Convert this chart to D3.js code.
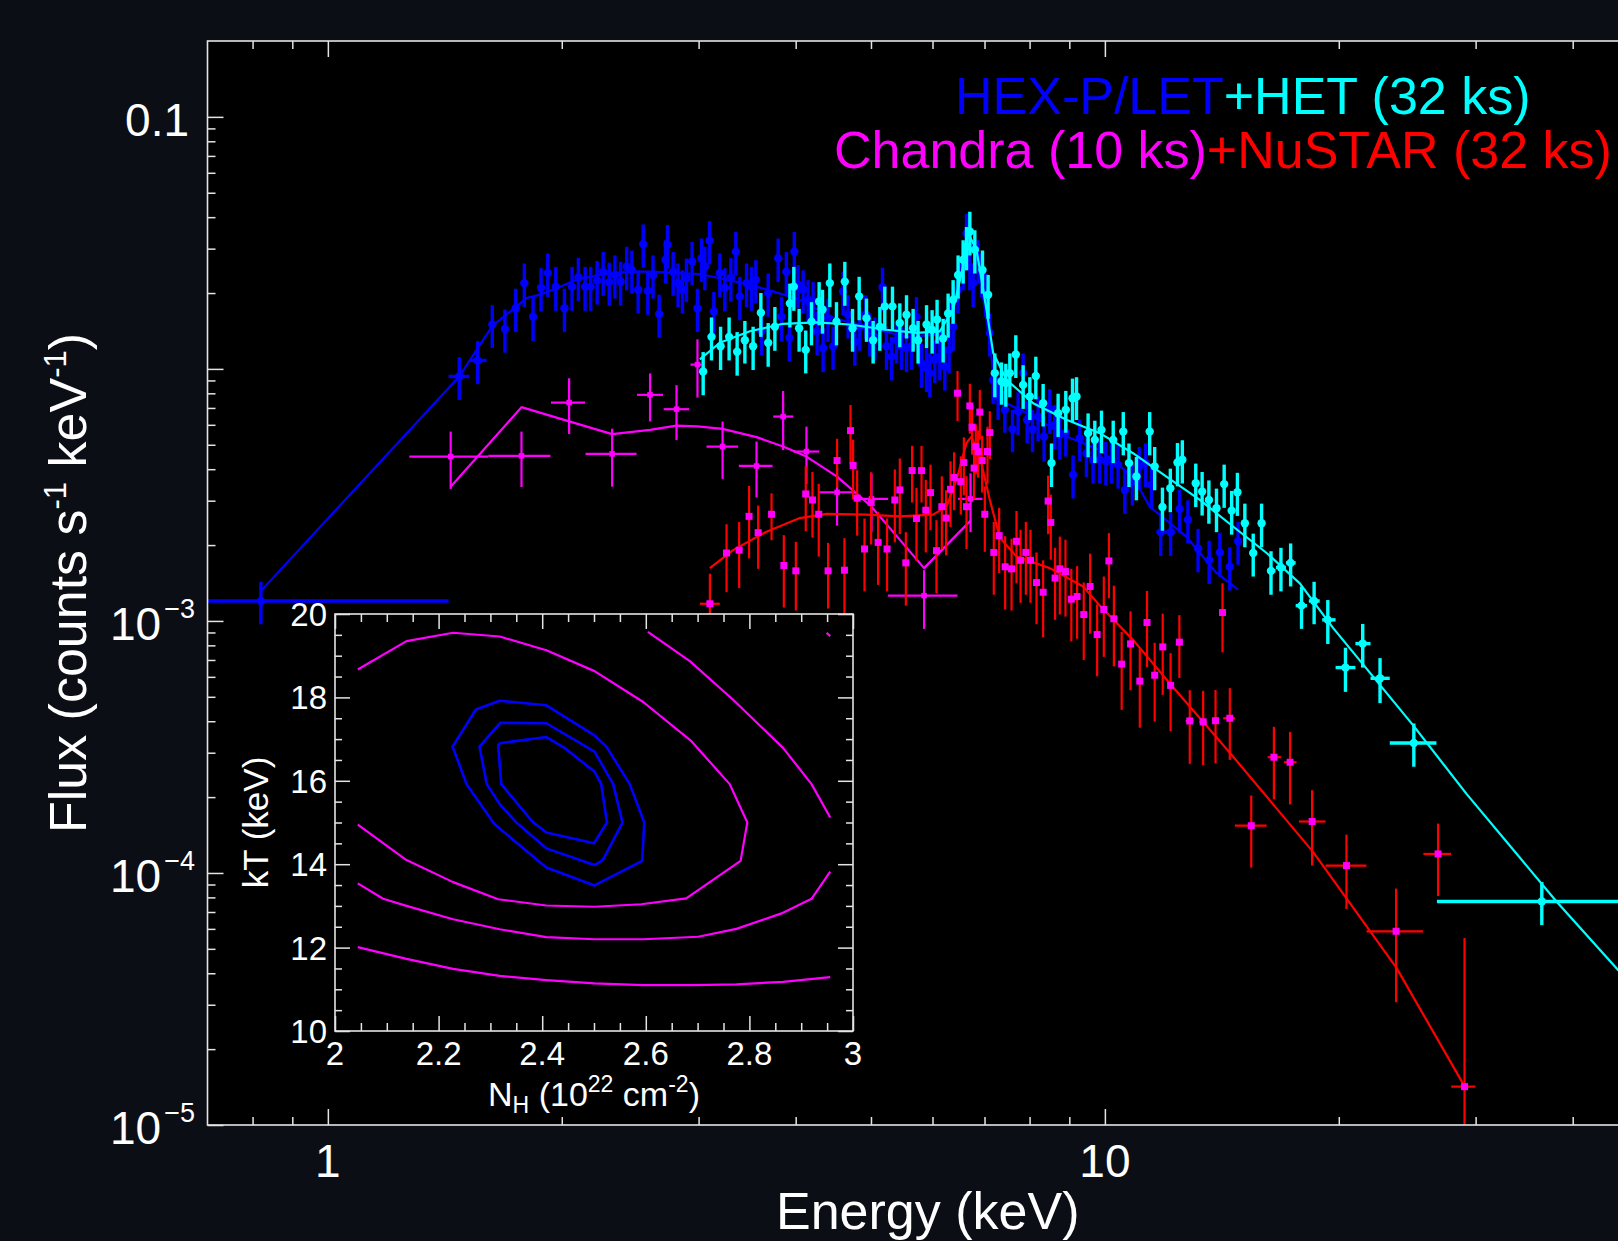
<!DOCTYPE html>
<html>
<head>
<meta charset="utf-8">
<script src="https://cdn.jsdelivr.net/npm/d3@7"></script>
<style>
  html, body { margin: 0; padding: 0; background: #0b0e15; }
  svg { display: block; }
  text { font-family: "Liberation Sans", Arial, Helvetica, sans-serif; fill: #fff; }
</style>
</head>
<body>
<svg id="chart" width="1618" height="1241"></svg>
<script>
"use strict";

// ---- spectrum data: [energy keV, flux, flux error, (bin low, bin high)] ----
var letData = [
  [0.82, 1.20e-3, 2.3e-4, 0.5, 1.43], [1.476, 9.33e-3, 1.8e-3, 1.43, 1.52], [1.559, 1.08e-2, 2.1e-3, 1.524, 1.601],
  [1.628, 1.50e-2, 2.9e-3], [1.690, 1.44e-2, 2.8e-3], [1.745, 1.74e-2, 3.4e-3], [1.790, 2.19e-2, 4.3e-3],
  [1.837, 1.61e-2, 3.2e-3], [1.881, 2.10e-2, 4.1e-3], [1.919, 2.40e-2, 4.7e-3], [1.965, 2.12e-2, 4.2e-3],
  [2.016, 1.74e-2, 3.4e-3], [2.062, 2.12e-2, 4.2e-3], [2.101, 2.31e-2, 4.5e-3], [2.143, 2.12e-2, 4.2e-3],
  [2.179, 2.12e-2, 4.2e-3], [2.221, 2.24e-2, 4.4e-3], [2.261, 2.43e-2, 4.8e-3], [2.302, 2.21e-2, 4.3e-3],
  [2.341, 2.36e-2, 4.6e-3], [2.381, 2.22e-2, 4.4e-3], [2.424, 2.55e-2, 5.0e-3], [2.462, 2.47e-2, 4.8e-3],
  [2.508, 2.06e-2, 4.0e-3], [2.546, 3.13e-2, 6.1e-3], [2.581, 2.04e-2, 4.0e-3], [2.621, 2.36e-2, 4.6e-3],
  [2.669, 1.65e-2, 3.2e-3], [2.720, 2.71e-2, 5.3e-3], [2.736, 3.11e-2, 6.1e-3], [2.782, 2.43e-2, 4.8e-3],
  [2.823, 2.19e-2, 4.3e-3], [2.860, 2.06e-2, 4.0e-3], [2.894, 2.29e-2, 4.5e-3], [2.943, 2.67e-2, 5.2e-3],
  [2.990, 1.74e-2, 3.4e-3], [3.026, 2.75e-2, 5.4e-3], [3.056, 2.55e-2, 5.0e-3], [3.099, 3.23e-2, 6.3e-3],
  [3.139, 1.69e-2, 3.3e-3], [3.195, 2.40e-2, 4.7e-3], [3.243, 2.10e-2, 4.1e-3], [3.301, 2.30e-2, 4.5e-3],
  [3.350, 2.92e-2, 5.7e-3], [3.390, 1.94e-2, 3.8e-3], [3.458, 2.19e-2, 4.3e-3], [3.510, 2.12e-2, 4.2e-3],
  [3.555, 2.26e-2, 4.4e-3], [3.615, 1.41e-2, 2.8e-3], [3.687, 2.00e-2, 3.9e-3], [3.798, 2.75e-2, 5.4e-3],
  [3.836, 1.61e-2, 3.2e-3], [3.891, 2.43e-2, 4.8e-3], [3.926, 1.33e-2, 2.6e-3], [3.984, 2.92e-2, 5.7e-3],
  [4.029, 2.16e-2, 4.2e-3], [4.089, 2.06e-2, 4.0e-3], [4.150, 1.88e-2, 3.7e-3], [4.212, 1.85e-2, 3.6e-3],
  [4.262, 1.41e-2, 2.8e-3], [4.339, 1.21e-2, 2.4e-3], [4.403, 1.59e-2, 3.1e-3], [4.469, 1.23e-2, 2.4e-3],
  [4.603, 2.03e-2, 4.0e-3], [4.672, 1.64e-2, 3.2e-3], [4.766, 1.28e-2, 2.5e-3], [4.837, 1.47e-2, 2.9e-3],
  [4.924, 1.64e-2, 3.2e-3], [4.983, 1.39e-2, 2.7e-3], [5.057, 1.34e-2, 2.6e-3], [5.174, 2.11e-2, 4.1e-3],
  [5.235, 1.23e-2, 2.4e-3], [5.314, 1.12e-2, 2.2e-3], [5.393, 1.30e-2, 2.5e-3], [5.473, 1.23e-2, 2.4e-3],
  [5.555, 1.21e-2, 2.4e-3], [5.638, 1.23e-2, 2.4e-3], [5.722, 1.61e-2, 3.2e-3], [5.808, 1.05e-2, 2.1e-3],
  [5.895, 1.01e-2, 2.0e-3], [5.953, 9.62e-3, 1.9e-3], [6.041, 1.09e-2, 2.1e-3], [6.132, 1.12e-2, 2.2e-3],
  [6.223, 1.02e-2, 2.0e-3], [6.303, 1.19e-2, 2.3e-3], [6.378, 1.47e-2, 2.9e-3], [6.473, 2.06e-2, 4.0e-3],
  [6.570, 2.55e-2, 5.0e-3], [6.636, 3.45e-2, 6.8e-3], [6.702, 2.55e-2, 5.0e-3], [6.768, 2.19e-2, 4.3e-3],
  [6.869, 2.71e-2, 5.3e-3], [6.938, 2.40e-2, 4.7e-3], [7.027, 2.00e-2, 3.9e-3], [7.111, 1.39e-2, 2.7e-3],
  [7.181, 9.05e-3, 1.8e-3], [7.288, 7.77e-3, 1.5e-3], [7.434, 6.88e-3, 1.3e-3], [7.605, 5.77e-3, 1.1e-3],
  [7.733, 6.77e-3, 1.3e-3], [7.849, 9.62e-3, 1.9e-3], [7.942, 6.28e-3, 1.2e-3], [8.070, 5.77e-3, 1.1e-3],
  [8.205, 6.47e-3, 1.3e-3], [8.352, 5.39e-3, 1.1e-3], [8.494, 6.92e-3, 1.4e-3], [8.621, 6.00e-3, 1.2e-3],
  [8.750, 5.47e-3, 1.1e-3], [8.906, 5.59e-3, 1.1e-3], [9.101, 3.80e-3, 7.4e-4], [9.284, 5.31e-3, 1.0e-3],
  [9.469, 4.63e-3, 9.1e-4], [9.657, 4.36e-3, 8.5e-4], [9.851, 4.36e-3, 8.5e-4], [10.03, 4.29e-3, 8.4e-4],
  [10.20, 4.36e-3, 8.5e-4], [10.40, 4.16e-3, 8.1e-4], [10.61, 3.31e-3, 6.5e-4], [10.85, 3.57e-3, 7.0e-4],
  [11.07, 4.10e-3, 8.0e-4], [11.28, 4.23e-3, 8.3e-4], [11.48, 3.47e-3, 6.8e-4],
  [11.80, 2.25e-3, 4.4e-4, 11.65, 11.94], [12.15, 2.25e-3, 4.4e-4, 11.94, 12.30],
  [12.48, 2.78e-3, 5.4e-4], [12.79, 2.52e-3, 4.9e-4], [13.18, 1.94e-3, 3.8e-4], [13.62, 1.74e-3, 3.4e-4],
  [14.06, 1.87e-3, 3.7e-4], [14.48, 1.64e-3, 3.2e-4], [14.84, 2.07e-3, 4.0e-4]
];

var hetData = [
  [3.041, 9.76e-3, 1.9e-3], [3.117, 1.34e-2, 2.6e-3], [3.202, 1.23e-2, 2.4e-3], [3.284, 1.34e-2, 2.6e-3],
  [3.363, 1.17e-2, 2.3e-3], [3.441, 1.30e-2, 2.5e-3], [3.526, 1.23e-2, 2.4e-3], [3.608, 1.67e-2, 3.3e-3],
  [3.687, 1.27e-2, 2.5e-3], [3.761, 1.47e-2, 2.9e-3], [3.932, 1.82e-2, 3.6e-3], [3.978, 2.12e-2, 4.2e-3],
  [4.041, 1.45e-2, 2.8e-3], [4.121, 1.19e-2, 2.3e-3], [4.192, 1.54e-2, 3.0e-3], [4.288, 1.85e-2, 3.6e-3],
  [4.331, 1.72e-2, 3.4e-3], [4.426, 2.19e-2, 4.3e-3], [4.514, 1.54e-2, 3.0e-3], [4.627, 2.22e-2, 4.4e-3],
  [4.734, 1.45e-2, 2.8e-3], [4.828, 1.94e-2, 3.8e-3], [4.934, 1.59e-2, 3.1e-3], [5.032, 1.30e-2, 2.5e-3],
  [5.133, 1.47e-2, 2.9e-3], [5.209, 1.77e-2, 3.5e-3], [5.329, 1.77e-2, 3.5e-3], [5.446, 1.52e-2, 3.0e-3],
  [5.555, 1.64e-2, 3.2e-3], [5.665, 1.45e-2, 2.8e-3], [5.749, 1.30e-2, 2.5e-3], [5.895, 1.50e-2, 2.9e-3],
  [5.993, 1.43e-2, 2.8e-3], [6.082, 1.57e-2, 3.1e-3], [6.192, 1.32e-2, 2.6e-3], [6.284, 1.66e-2, 3.3e-3],
  [6.378, 1.88e-2, 3.7e-3], [6.473, 2.36e-2, 4.6e-3], [6.570, 2.71e-2, 5.3e-3], [6.636, 3.06e-2, 6.0e-3],
  [6.702, 3.51e-2, 6.9e-3], [6.802, 2.97e-2, 5.8e-3], [6.958, 2.47e-2, 4.8e-3], [7.075, 1.97e-2, 3.9e-3],
  [7.217, 9.62e-3, 1.9e-3], [7.361, 8.91e-3, 1.7e-3], [7.456, 8.78e-3, 1.7e-3], [7.545, 9.62e-3, 1.9e-3],
  [7.680, 1.14e-2, 2.2e-3], [7.849, 8.64e-3, 1.7e-3], [8.006, 7.77e-3, 1.5e-3], [8.149, 9.38e-3, 1.8e-3],
  [8.328, 7.31e-3, 1.4e-3], [8.537, 4.23e-3, 8.3e-4], [8.706, 6.67e-3, 1.3e-3], [8.906, 6.88e-3, 1.3e-3],
  [9.085, 7.65e-3, 1.5e-3], [9.194, 7.77e-3, 1.5e-3], [9.515, 5.56e-3, 1.1e-3], [9.706, 5.23e-3, 1.0e-3],
  [9.90, 5.73e-3, 1.1e-3], [10.25, 5.23e-3, 1.0e-3], [10.56, 5.64e-3, 1.1e-3], [10.74, 4.23e-3, 8.3e-4],
  [10.98, 3.74e-3, 7.3e-4], [11.42, 5.64e-3, 1.1e-3], [11.59, 4.10e-3, 8.0e-4], [11.86, 2.83e-3, 5.5e-4],
  [12.14, 3.36e-3, 6.6e-4], [12.40, 4.25e-3, 8.3e-4], [12.58, 4.36e-3, 8.5e-4], [13.09, 3.52e-3, 6.9e-4],
  [13.34, 3.26e-3, 6.4e-4], [13.61, 3.02e-3, 5.9e-4], [13.92, 2.80e-3, 5.5e-4], [14.24, 3.49e-3, 6.8e-4],
  [14.56, 2.74e-3, 5.4e-4], [14.81, 3.24e-3, 6.3e-4], [15.14, 2.44e-3, 4.8e-4], [15.52, 1.86e-3, 3.6e-4],
  [15.91, 2.44e-3, 4.8e-4],
  [16.36, 1.58e-3, 3.1e-4, 16.17, 16.58], [16.85, 1.63e-3, 3.2e-4, 16.6, 17.1],
  [17.34, 1.70e-3, 3.3e-4, 17.1, 17.6], [17.91, 1.15e-3, 2.2e-4, 17.6, 18.2],
  [18.59, 1.20e-3, 2.3e-4, 18.3, 18.9], [19.36, 1.01e-3, 2.0e-4, 19.04, 19.81],
  [20.40, 6.53e-4, 1.3e-4, 19.81, 21.01], [21.47, 8.13e-4, 1.6e-4, 21.01, 21.97],
  [22.60, 5.92e-4, 1.2e-4, 21.97, 23.26], [24.98, 3.28e-4, 6.4e-5, 23.26, 26.71],
  [36.50, 7.71e-5, 1.5e-5, 26.75, 50]
];

var nustarData = [
  [3.102, 1.17e-3, 3.7e-4, 3.011, 3.195], [3.259, 1.86e-3, 5.6e-4], [3.383, 1.91e-3, 5.6e-4],
  [3.484, 2.60e-3, 8.3e-4], [3.579, 2.24e-3, 6.3e-4], [3.724, 2.65e-3, 5.6e-4], [3.862, 1.66e-3, 5.3e-4],
  [4.002, 1.58e-3, 4.8e-4], [4.121, 3.19e-3, 9.2e-4], [4.204, 3.02e-3, 8.8e-4], [4.283, 2.65e-3, 8.5e-4],
  [4.403, 1.58e-3, 4.6e-4], [4.522, 4.33e-3, 9.5e-4], [4.622, 1.59e-3, 5.4e-4], [4.706, 5.69e-3, 1.5e-3],
  [4.742, 4.14e-3, 1.1e-3], [4.799, 3.07e-3, 8.9e-4], [4.905, 1.93e-3, 6.2e-4], [5.002, 2.95e-3, 9.4e-4],
  [5.107, 2.05e-3, 6.6e-4], [5.244, 1.93e-3, 6.2e-4], [5.366, 3.02e-3, 9.7e-4], [5.446, 3.31e-3, 1.1e-3],
  [5.544, 1.70e-3, 5.5e-4], [5.648, 3.95e-3, 1.0e-3], [5.722, 2.55e-3, 8.2e-4], [5.808, 3.95e-3, 1.0e-3],
  [5.882, 2.75e-3, 8.8e-4], [5.965, 3.23e-3, 9.4e-4], [6.071, 1.90e-3, 6.1e-4], [6.168, 2.84e-3, 9.1e-4],
  [6.247, 2.56e-3, 7.4e-4], [6.329, 3.33e-3, 9.7e-4], [6.397, 3.71e-3, 9.6e-4], [6.462, 8.01e-3, 1.8e-3],
  [6.525, 3.57e-3, 9.3e-4], [6.584, 4.25e-3, 1.1e-3], [6.636, 2.84e-3, 9.1e-4], [6.702, 7.13e-3, 1.6e-3],
  [6.747, 5.87e-3, 1.3e-3], [6.787, 4.04e-3, 1.0e-3], [6.822, 4.92e-3, 1.1e-3], [6.869, 4.70e-3, 1.0e-3],
  [6.903, 6.74e-3, 1.5e-3], [6.951, 4.33e-3, 1.1e-3], [7.006, 2.65e-3, 7.7e-4], [7.062, 4.70e-3, 1.2e-3],
  [7.111, 5.59e-3, 1.2e-3], [7.195, 1.87e-3, 6.0e-4], [7.310, 2.18e-3, 6.3e-4], [7.441, 1.64e-3, 5.3e-4],
  [7.584, 1.61e-3, 5.1e-4], [7.696, 2.07e-3, 6.6e-4], [7.789, 1.74e-3, 5.6e-4], [7.912, 1.87e-3, 6.0e-4],
  [8.022, 1.74e-3, 5.6e-4], [8.166, 1.42e-3, 4.5e-4], [8.328, 1.30e-3, 4.4e-4], [8.452, 2.99e-3, 7.8e-4],
  [8.519, 2.46e-3, 7.1e-4], [8.628, 1.48e-3, 4.7e-4], [8.750, 1.61e-3, 5.5e-4], [8.898, 1.57e-3, 5.3e-4],
  [9.053, 1.22e-3, 3.9e-4], [9.209, 1.25e-3, 4.0e-4], [9.393, 1.06e-3, 3.6e-4], [9.571, 1.37e-3, 4.8e-4],
  [9.773, 8.83e-4, 2.8e-4], [9.968, 1.11e-3, 3.9e-4], [10.12, 1.73e-3, 5.0e-4], [10.27, 1.02e-3, 3.6e-4],
  [10.51, 6.74e-4, 2.3e-4], [10.79, 8.11e-4, 2.8e-4], [11.09, 5.77e-4, 2.0e-4], [11.33, 9.86e-4, 3.3e-4],
  [11.59, 6.09e-4, 2.1e-4], [11.87, 7.89e-4, 2.8e-4], [12.15, 5.55e-4, 1.9e-4], [12.47, 8.24e-4, 2.3e-4],
  [12.86, 4.01e-4, 1.3e-4, 12.7, 13.0], [13.38, 3.98e-4, 1.3e-4, 13.23, 13.53], [13.88, 4.02e-4, 1.3e-4],
  [14.17, 1.08e-3, 3.3e-4], [14.48, 4.11e-4, 1.3e-4, 14.2, 14.7],
  [15.43, 1.54e-4, 4.9e-5, 14.70, 16.15], [16.50, 2.88e-4, 9.2e-5, 16.2, 16.85],
  [17.31, 2.75e-4, 8.8e-5, 17.0, 17.65], [18.48, 1.60e-4, 5.3e-5, 17.77, 19.23],
  [20.46, 1.07e-4, 3.5e-5, 19.23, 21.71], [23.70, 5.87e-5, 2.8e-5, 21.71, 25.67],
  [26.84, 1.19e-4, 3.8e-5, 25.70, 27.89], [29.03, 1.42e-5, 4.1e-5, 27.91, 29.99]
];

var chandraData = [
  [1.439, 4.49e-3, 1.15e-3, 1.273, 1.609], [1.775, 4.52e-3, 1.12e-3, 1.609, 1.934],
  [2.044, 7.35e-3, 1.83e-3, 1.937, 2.143], [2.322, 4.60e-3, 1.19e-3, 2.146, 2.496],
  [2.598, 7.89e-3, 1.7e-3, 2.50, 2.70], [2.810, 6.92e-3, 1.7e-3, 2.705, 2.917],
  [2.990, 1.04e-2, 2.7e-3, 2.929, 3.026], [3.221, 4.92e-3, 1.26e-3, 3.071, 3.373],
  [3.562, 4.12e-3, 1.03e-3, 3.38, 3.735], [3.854, 6.47e-3, 1.7e-3, 3.742, 3.972],
  [4.130, 4.70e-3, 1.2e-3, 3.972, 4.288], [4.522, 3.24e-3, 8.5e-4, 4.288, 4.766],
  [5.008, 3.05e-3, 7.9e-4, 4.766, 5.26], [5.852, 1.26e-3, 3.3e-4, 5.26, 6.462],
  [6.716, 3.05e-3, 8.0e-4, 6.473, 6.958]
];

// ---- model curves: [energy keV, flux] ----
var letModel = [
  [0.819, 1.31e-3], [1.476, 9.33e-3], [1.559, 1.21e-2], [1.628, 1.48e-2], [1.745, 1.76e-2], [1.801, 1.91e-2],
  [1.874, 1.97e-2], [1.969, 2.09e-2], [2.089, 2.26e-2], [2.239, 2.36e-2], [2.424, 2.43e-2], [2.621, 2.43e-2],
  [2.810, 2.40e-2], [3.011, 2.38e-2], [3.195, 2.29e-2], [3.492, 2.16e-2], [3.742, 2.03e-2], [4.049, 1.88e-2],
  [4.469, 1.60e-2], [4.790, 1.50e-2], [5.183, 1.41e-2], [5.555, 1.34e-2], [6.132, 1.37e-2], [6.378, 1.88e-2],
  [6.570, 2.71e-2], [6.662, 3.40e-2], [6.836, 2.84e-2], [7.041, 1.57e-2], [7.181, 9.91e-3], [7.325, 7.54e-3],
  [8.085, 6.47e-3], [8.925, 5.39e-3], [9.851, 4.77e-3], [10.87, 3.74e-3], [11.42, 2.84e-3], [12.73, 2.16e-3],
  [13.92, 1.55e-3], [14.84, 1.33e-3]
];
var hetModel = [
  [3.011, 1.09e-2], [3.195, 1.27e-2], [3.492, 1.41e-2], [3.850, 1.51e-2], [4.254, 1.53e-2], [4.696, 1.50e-2],
  [5.235, 1.43e-2], [5.722, 1.39e-2], [6.132, 1.41e-2], [6.378, 1.72e-2], [6.570, 2.55e-2], [6.668, 3.45e-2],
  [6.836, 2.97e-2], [7.041, 1.72e-2], [7.181, 1.16e-2], [7.472, 9.05e-3], [8.085, 7.31e-3], [8.925, 6.28e-3],
  [9.851, 5.56e-3], [10.87, 4.63e-3], [12.0, 3.74e-3], [13.25, 3.02e-3], [14.62, 2.37e-3], [16.15, 1.86e-3],
  [17.82, 1.41e-3], [19.66, 9.39e-4], [24.92, 3.86e-4], [29.2, 2.06e-4], [38.12, 7.71e-5], [45.72, 4.13e-5],
  [50, 3.05e-5]
];
var nustarModel = [
  [3.102, 1.62e-3], [3.323, 1.91e-3], [3.669, 2.26e-3], [4.049, 2.56e-3], [4.383, 2.66e-3], [4.934, 2.64e-3],
  [5.446, 2.60e-3], [6.011, 2.64e-3], [6.254, 2.84e-3], [6.443, 3.63e-3], [6.636, 5.08e-3], [6.735, 5.39e-3],
  [6.903, 4.49e-3], [7.111, 3.02e-3], [7.325, 2.14e-3], [7.696, 1.80e-3], [8.494, 1.62e-3], [9.375, 1.37e-3],
  [9.851, 1.15e-3], [10.87, 8.41e-4], [12.24, 5.46e-4], [14.48, 3.00e-4], [18.54, 1.21e-4], [23.73, 4.20e-5],
  [29.05, 1.42e-5]
];
var chandraModel = [
  [1.439, 3.41e-3], [1.775, 7.05e-3], [2.044, 6.19e-3], [2.322, 5.51e-3], [2.598, 5.73e-3], [2.810, 5.96e-3],
  [2.990, 5.91e-3], [3.221, 5.78e-3], [3.562, 5.36e-3], [3.854, 4.92e-3], [4.130, 4.49e-3], [4.522, 3.74e-3],
  [5.008, 2.84e-3], [5.852, 1.62e-3], [6.716, 2.50e-3]
];

// ---- inset confidence contours: [NH 1e22, kT keV] ----
var magContourOuter = [
  [2.044, 18.67], [2.138, 19.35], [2.228, 19.55], [2.318, 19.46], [2.408, 19.13], [2.501, 18.63],
  [2.595, 17.89], [2.688, 16.95], [2.762, 15.92], [2.796, 15.0], [2.783, 14.08], [2.678, 13.18],
  [2.591, 13.04], [2.501, 12.98], [2.408, 13.01], [2.315, 13.16], [2.228, 13.57], [2.138, 14.10], [2.044, 14.95]
];
var magContourMidTop = [[2.604, 19.57], [2.685, 18.87], [2.768, 17.95], [2.865, 16.79], [2.920, 15.92], [2.956, 15.12]];
var magContourMidLow = [
  [2.956, 13.82], [2.920, 13.17], [2.862, 12.82], [2.775, 12.45], [2.701, 12.26], [2.595, 12.20],
  [2.501, 12.20], [2.408, 12.25], [2.318, 12.44], [2.228, 12.68], [2.138, 13.0], [2.093, 13.17], [2.044, 13.54]
];
var magContourCorner = [[2.949, 19.55], [2.956, 19.47]];
var magContourLow = [
  [2.044, 12.01], [2.138, 11.73], [2.228, 11.49], [2.318, 11.32], [2.408, 11.22], [2.501, 11.14],
  [2.595, 11.10], [2.688, 11.10], [2.775, 11.12], [2.865, 11.18], [2.956, 11.29]
];
var blueContourOuter = [
  [2.227, 16.82], [2.272, 17.71], [2.318, 17.92], [2.408, 17.81], [2.501, 17.09], [2.524, 16.82], [2.569, 15.92],
  [2.597, 15.0], [2.593, 14.08], [2.501, 13.49], [2.408, 13.92], [2.308, 14.96], [2.254, 15.92]
];
var blueContourMid = [
  [2.279, 16.82], [2.319, 17.39], [2.408, 17.38], [2.501, 16.70], [2.537, 15.92], [2.555, 15.0],
  [2.517, 14.10], [2.501, 13.98], [2.408, 14.38], [2.350, 15.0], [2.318, 15.44], [2.293, 15.92]
];
var blueContourInner = [
  [2.315, 16.85], [2.318, 16.90], [2.408, 17.05], [2.443, 16.79], [2.501, 16.22], [2.514, 15.92],
  [2.525, 15.0], [2.500, 14.50], [2.408, 14.76], [2.382, 15.01], [2.321, 15.92]
];

// ---- ticks ----
var xMajorTicks = [1, 10];
var xMinorTicks = [0.8, 0.9, 2, 3, 4, 5, 6, 7, 8, 9, 20, 30, 40];
var xTickLabels = [[1, "1"], [10, "10"]];
var yMajorTicks = [1e-5, 1e-4, 1e-3, 1e-2, 0.1];
var yTickLabels = [[0.1, "0.1", ""], [1e-3, "10", "\u22123"], [1e-4, "10", "\u22124"], [1e-5, "10", "\u22125"]];
var insetXTicks = [2, 2.2, 2.4, 2.6, 2.8, 3];
var insetXLabels = ["2", "2.2", "2.4", "2.6", "2.8", "3"];
var insetYTicks = [10, 12, 14, 16, 18, 20];

var W = 1618, H = 1241;
var plot = {left: 207.5, right: 1648, top: 41, bottom: 1125};
var frameColor = "#e4e4e4";

var svg = d3.select("#chart");
svg.append("rect").attr("width", W).attr("height", H).attr("fill", "#0b0e15");
svg.append("rect")
    .attr("x", plot.left).attr("y", plot.top)
    .attr("width", plot.right - plot.left).attr("height", plot.bottom - plot.top)
    .attr("fill", "#000");

var x = d3.scaleLog().domain([0.7, 50]).range([plot.left, plot.right]);
var y = d3.scaleLog().domain([1e-5, 0.2]).range([plot.bottom, plot.top]);

var defs = svg.append("defs");
defs.append("clipPath").attr("id", "plotClip").append("rect")
    .attr("x", plot.left).attr("y", plot.top)
    .attr("width", plot.right - plot.left).attr("height", plot.bottom - plot.top);

var dataLayer = svg.append("g").attr("clip-path", "url(#plotClip)");

var line = d3.line()
    .x(function(d) { return x(d[0]); })
    .y(function(d) { return y(d[1]); });

function errorBars(g, rows, color, width) {
    var bars = g.append("g").attr("stroke", color).attr("stroke-width", width);
    bars.selectAll(null).data(rows).enter().append("line")
        .attr("x1", function(d) { return x(d[0]); })
        .attr("x2", function(d) { return x(d[0]); })
        .attr("y1", function(d) { return y(Math.max(d[1] - d[2], 1e-8)); })
        .attr("y2", function(d) { return y(d[1] + d[2]); });
    bars.selectAll(null).data(rows.filter(function(d) { return d.length > 3; })).enter().append("line")
        .attr("x1", function(d) { return x(d[3]); })
        .attr("x2", function(d) { return x(d[4]); })
        .attr("y1", function(d) { return y(d[1]); })
        .attr("y2", function(d) { return y(d[1]); });
}

function squares(g, rows, color, size) {
    g.append("g").selectAll(null).data(rows).enter().append("rect")
        .attr("x", function(d) { return x(d[0]) - size / 2; })
        .attr("y", function(d) { return y(d[1]) - size / 2; })
        .attr("width", size).attr("height", size)
        .attr("fill", color);
}

function dots(g, rows, color, r) {
    g.append("g").selectAll(null).data(rows).enter().append("circle")
        .attr("cx", function(d) { return x(d[0]); })
        .attr("cy", function(d) { return y(d[1]); })
        .attr("r", r)
        .attr("fill", color);
}

function modelLine(g, rows, color) {
    g.append("path").datum(rows)
        .attr("fill", "none").attr("stroke", color).attr("stroke-width", 2.2)
        .attr("stroke-linejoin", "round")
        .attr("d", line);
}

// Chandra
errorBars(dataLayer, chandraData, "#ff00ff", 2.2);
modelLine(dataLayer, chandraModel, "#ff00ff");
squares(dataLayer, chandraData, "#ff00ff", 5.5);

// NuSTAR
errorBars(dataLayer, nustarData, "#ff0000", 2.2);
modelLine(dataLayer, nustarModel, "#ff0000");
squares(dataLayer, nustarData, "#ff00ff", 7);

// HEX-P LET
errorBars(dataLayer, letData, "#0000ff", 3.4);
dots(dataLayer, letData, "#0000ff", 4.2);
modelLine(dataLayer, letModel, "#0000ff");

// HEX-P HET
errorBars(dataLayer, hetData, "#00ffff", 3.4);
dots(dataLayer, hetData, "#00ffff", 4.2);
modelLine(dataLayer, hetModel, "#00ffff");

// frame + ticks
function styleAxis(g) {
    g.select(".domain").remove();
    g.selectAll(".tick line").attr("stroke", frameColor).attr("stroke-width", 1.5);
}

var axes = svg.append("g");
axes.append("g").attr("transform", "translate(0," + plot.bottom + ")")
    .call(d3.axisBottom(x).tickValues(xMajorTicks).tickSize(-16).tickFormat("")).call(styleAxis);
axes.append("g").attr("transform", "translate(0," + plot.bottom + ")")
    .call(d3.axisBottom(x).tickValues(xMinorTicks).tickSize(-8).tickFormat("")).call(styleAxis);
axes.append("g").attr("transform", "translate(0," + plot.top + ")")
    .call(d3.axisTop(x).tickValues(xMajorTicks).tickSize(-16).tickFormat("")).call(styleAxis);
axes.append("g").attr("transform", "translate(0," + plot.top + ")")
    .call(d3.axisTop(x).tickValues(xMinorTicks).tickSize(-8).tickFormat("")).call(styleAxis);

var yMinorTicks = [];
yMajorTicks.slice(0, 4).forEach(function(p) {
    [2, 3, 4, 5, 6, 7, 8, 9].forEach(function(k) { yMinorTicks.push(k * p); });
});
axes.append("g").attr("transform", "translate(" + plot.left + ",0)")
    .call(d3.axisLeft(y).tickValues(yMajorTicks).tickSize(-16).tickFormat("")).call(styleAxis);
axes.append("g").attr("transform", "translate(" + plot.left + ",0)")
    .call(d3.axisLeft(y).tickValues(yMinorTicks).tickSize(-8).tickFormat("")).call(styleAxis);

axes.append("rect")
    .attr("x", plot.left).attr("y", plot.top)
    .attr("width", plot.right - plot.left).attr("height", plot.bottom - plot.top)
    .attr("fill", "none").attr("stroke", frameColor).attr("stroke-width", 1.6);

// tick labels
axes.selectAll(null).data(xTickLabels).enter().append("text")
    .attr("x", function(d) { return x(d[0]); })
    .attr("y", plot.bottom + 52)
    .attr("text-anchor", "middle").attr("font-size", 46)
    .text(function(d) { return d[1]; });

var yLab = axes.selectAll(null).data(yTickLabels).enter().append("text")
    .attr("x", function(d) { return d[2] ? 195 : 189; })
    .attr("y", function(d) { return y(d[0]) + 19; })
    .attr("text-anchor", "end").attr("font-size", 46);
yLab.append("tspan").text(function(d) { return d[1]; });
yLab.filter(function(d) { return d[2]; }).append("tspan")
    .attr("font-size", 27).attr("dy", -22).attr("dx", 3)
    .text(function(d) { return d[2]; });

// axis titles
svg.append("text")
    .attr("x", (plot.left + plot.right) / 2).attr("y", 1229)
    .attr("text-anchor", "middle").attr("font-size", 52)
    .text("Energy (keV)");

var yTitle = svg.append("text")
    .attr("transform", "translate(86,583) rotate(-90)")
    .attr("text-anchor", "middle").attr("font-size", 52);
yTitle.append("tspan").text("Flux (counts s");
yTitle.append("tspan").attr("font-size", 31).attr("dy", -20).text("-1");
yTitle.append("tspan").attr("dy", 20).text(" keV");
yTitle.append("tspan").attr("font-size", 31).attr("dy", -20).text("-1");
yTitle.append("tspan").attr("dy", 20).text(")");

// legend
var leg1 = svg.append("text").attr("x", 955).attr("y", 114).attr("font-size", 52);
leg1.append("tspan").attr("fill", "#0000ff").text("HEX-P/LET");
leg1.append("tspan").attr("fill", "#00ffff").text("+HET (32 ks)");
var leg2 = svg.append("text").attr("x", 834).attr("y", 168).attr("font-size", 52);
leg2.append("tspan").attr("fill", "#ff00ff").text("Chandra (10 ks)");
leg2.append("tspan").attr("fill", "#ff0000").text("+NuSTAR (32 ks)");

// ---- inset ----
var inset = {left: 335, right: 853, top: 614, bottom: 1031};
var ix = d3.scaleLinear().domain([2, 3]).range([inset.left, inset.right]);
var iy = d3.scaleLinear().domain([10, 20]).range([inset.bottom, inset.top]);
var ins = svg.append("g");
ins.append("rect")
    .attr("x", inset.left).attr("y", inset.top)
    .attr("width", inset.right - inset.left).attr("height", inset.bottom - inset.top)
    .attr("fill", "#000");

defs.append("clipPath").attr("id", "insetClip").append("rect")
    .attr("x", inset.left).attr("y", inset.top)
    .attr("width", inset.right - inset.left).attr("height", inset.bottom - inset.top);

var contourLayer = ins.append("g").attr("clip-path", "url(#insetClip)").attr("fill", "none")
    .attr("stroke-linejoin", "round");
var iline = d3.line().x(function(d) { return ix(d[0]); }).y(function(d) { return iy(d[1]); });
var iloop = d3.line().x(function(d) { return ix(d[0]); }).y(function(d) { return iy(d[1]); })
    .curve(d3.curveLinearClosed);

[magContourOuter, magContourMidTop, magContourMidLow, magContourCorner, magContourLow].forEach(function(c) {
    contourLayer.append("path").datum(c).attr("stroke", "#ff00ff").attr("stroke-width", 2.2).attr("d", iline);
});
[blueContourOuter, blueContourMid, blueContourInner].forEach(function(c) {
    contourLayer.append("path").datum(c).attr("stroke", "#0000ff").attr("stroke-width", 2.6).attr("d", iloop);
});

var insetXMinor = d3.range(2.05, 3, 0.05).filter(function(v) {
    return Math.abs(v * 5 - Math.round(v * 5)) > 0.01;
});
var insetYMinor = d3.range(10.5, 20, 0.5).filter(function(v) { return Math.abs(v % 2) > 0.01; });

ins.append("g").attr("transform", "translate(0," + inset.bottom + ")")
    .call(d3.axisBottom(ix).tickValues(insetXTicks).tickSize(-15).tickFormat("")).call(styleAxis);
ins.append("g").attr("transform", "translate(0," + inset.bottom + ")")
    .call(d3.axisBottom(ix).tickValues(insetXMinor).tickSize(-8).tickFormat("")).call(styleAxis);
ins.append("g").attr("transform", "translate(0," + inset.top + ")")
    .call(d3.axisTop(ix).tickValues(insetXTicks).tickSize(-15).tickFormat("")).call(styleAxis);
ins.append("g").attr("transform", "translate(0," + inset.top + ")")
    .call(d3.axisTop(ix).tickValues(insetXMinor).tickSize(-8).tickFormat("")).call(styleAxis);
ins.append("g").attr("transform", "translate(" + inset.left + ",0)")
    .call(d3.axisLeft(iy).tickValues(insetYTicks).tickSize(-15).tickFormat("")).call(styleAxis);
ins.append("g").attr("transform", "translate(" + inset.left + ",0)")
    .call(d3.axisLeft(iy).tickValues(insetYMinor).tickSize(-7).tickFormat("")).call(styleAxis);
ins.append("g").attr("transform", "translate(" + inset.right + ",0)")
    .call(d3.axisRight(iy).tickValues(insetYTicks).tickSize(-15).tickFormat("")).call(styleAxis);
ins.append("g").attr("transform", "translate(" + inset.right + ",0)")
    .call(d3.axisRight(iy).tickValues(insetYMinor).tickSize(-7).tickFormat("")).call(styleAxis);

ins.append("rect")
    .attr("x", inset.left).attr("y", inset.top)
    .attr("width", inset.right - inset.left).attr("height", inset.bottom - inset.top)
    .attr("fill", "none").attr("stroke", frameColor).attr("stroke-width", 1.6);

ins.selectAll(null).data(insetXTicks).enter().append("text")
    .attr("x", function(d) { return ix(d); }).attr("y", 1065)
    .attr("text-anchor", "middle").attr("font-size", 33)
    .text(function(d, i) { return insetXLabels[i]; });
ins.selectAll(null).data(insetYTicks).enter().append("text")
    .attr("x", 327).attr("y", function(d) { return iy(d) + 12; })
    .attr("text-anchor", "end").attr("font-size", 33)
    .text(function(d) { return d; });

var nh = ins.append("text").attr("x", (inset.left + inset.right) / 2).attr("y", 1106)
    .attr("text-anchor", "middle").attr("font-size", 34);
nh.append("tspan").text("N");
nh.append("tspan").attr("font-size", 23).attr("dy", 7).text("H");
nh.append("tspan").attr("dy", -7).text(" (10");
nh.append("tspan").attr("font-size", 23).attr("dy", -14).text("22");
nh.append("tspan").attr("dy", 14).text(" cm");
nh.append("tspan").attr("font-size", 23).attr("dy", -14).text("-2");
nh.append("tspan").attr("dy", 14).text(")");

ins.append("text")
    .attr("transform", "translate(268," + (inset.top + inset.bottom) / 2 + ") rotate(-90)")
    .attr("text-anchor", "middle").attr("font-size", 35)
    .text("kT (keV)");
</script>
</body>
</html>
